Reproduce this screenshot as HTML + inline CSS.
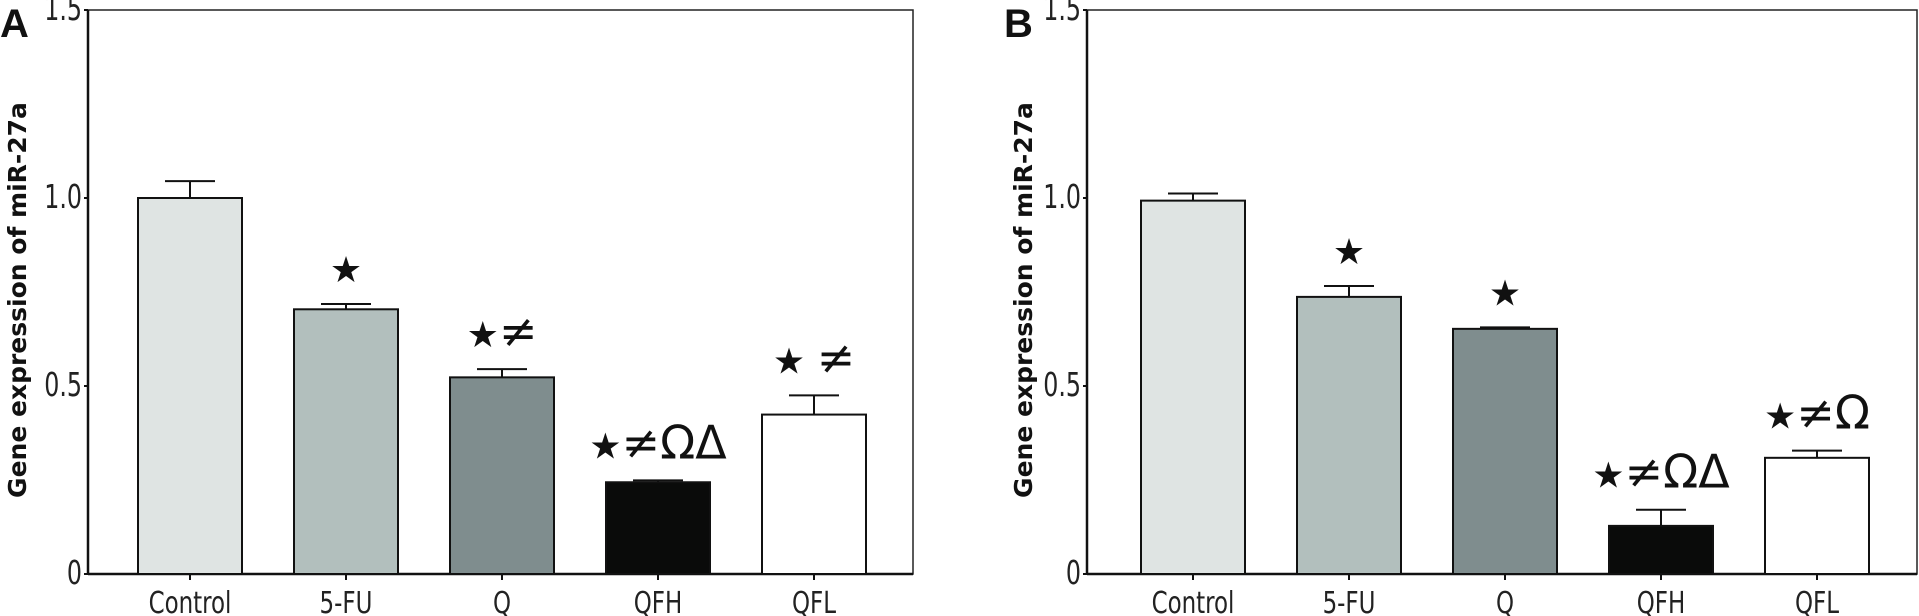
<!DOCTYPE html>
<html><head><meta charset="utf-8"><style>
html,body{margin:0;padding:0;background:#fff;}
svg{display:block;}
text{font-family:"DejaVu Sans Condensed","Liberation Sans Narrow","Liberation Sans",sans-serif;}
</style></head><body>
<svg id="chart" width="1919" height="616" viewBox="0 0 1919 616"></svg>
<script>
const categories = ["Control","5-FU","Q","QFH","QFL"];
const fills = ["#dfe4e3","#b2bfbd","#7f8d8e","#0a0b0a","#ffffff"];
const valuesA = [1.0,0.704,0.523,0.244,0.424];
const errorsA = [0.045,0.014,0.022,0.005,0.051];
const starsA = ["","★","★","★","★ "];
const symsA = ["","","≠","≠ΩΔ","≠"];
const valuesB = [0.993,0.737,0.652,0.128,0.309];
const errorsB = [0.019,0.029,0.004,0.043,0.019];
const starsB = ["","★","★","★","★"];
const symsB = ["","","","≠ΩΔ","≠Ω"];
const yTicks = [0,0.5,1.0,1.5];
const yTickLabels = ["0","0.5","1.0","1.5"];

const NS="http://www.w3.org/2000/svg";
const svg=document.getElementById('chart');
function mk(tag,attrs,parent){const e=document.createElementNS(NS,tag);for(const k in attrs)e.setAttribute(k,attrs[k]);(parent||svg).appendChild(e);return e;}

function panel(letter, x0, x1, firstCenter, values, errors, stars, syms, letterX, titleX, pname){
  const g=mk('g',{});
  
  
  const yTop=10, yZero=574, yMax=1.5;
  const y=v=>yZero-(v/yMax)*(yZero-yTop);
  const step=156, bw=104;
  const xc=i=>firstCenter+i*step;
  const fr=mk('rect',{x:x0,y:yTop,width:x1-x0,height:yZero-yTop,fill:'none',stroke:'#222','stroke-width':1.5},g);
  
  
  const ax=mk('line',{x1:x0,y1:yTop,x2:x0,y2:yZero,stroke:'#111','stroke-width':2.5},g);
  
  
  const bx=mk('line',{x1:x0,y1:yZero,x2:x1,y2:yZero,stroke:'#111','stroke-width':2.5},g);
  
  
  yTicks.forEach((t,i)=>{
    mk('line',{x1:x0-4,y1:y(t),x2:x0,y2:y(t),stroke:'#111','stroke-width':2},g);
    const tx=x0-6;
    const tl=mk('text',{x:tx,y:y(t)+10,'text-anchor':'end',fill:'#222',style:'font-size:33px',transform:`translate(${tx},0) scale(0.8,1) translate(${-tx},0)`},g);
    tl.textContent=yTickLabels[i];
    
    
  });
  categories.forEach((c,i)=>{
    const cx=xc(i);
    const top=y(values[i]);
    const eb=y(values[i]+errors[i]);
    mk('line',{x1:cx,y1:eb,x2:cx,y2:top,stroke:'#111','stroke-width':2},g);
    mk('line',{x1:cx-25,y1:eb,x2:cx+25,y2:eb,stroke:'#111','stroke-width':2},g);
    const r=mk('rect',{x:cx-bw/2,y:top,width:bw,height:yZero-top,fill:fills[i],stroke:'#111','stroke-width':2},g);
    
    
    mk('line',{x1:cx,y1:yZero,x2:cx,y2:yZero+6,stroke:'#111','stroke-width':2},g);
    const xl=mk('text',{x:cx,y:613,'text-anchor':'middle',fill:'#222',style:'font-size:30px',transform:`translate(${cx},0) scale(0.85,1) translate(${-cx},0)`},g);
    xl.textContent=c;
    
    
    if(stars[i]){
      const a=mk('text',{x:cx,y:Math.min(top,eb)-22,'text-anchor':'middle',fill:'#111',style:'font-family:"DejaVu Sans",sans-serif'},g);
      
      
      const s1=mk('tspan',{style:'font-size:36px'},a); s1.textContent=stars[i];
      const s2=mk('tspan',{style:'font-size:46px'},a); s2.textContent=syms[i];
    }
  });
  const L=mk('text',{x:letterX,y:37,fill:'#111',style:'font-size:40px;font-weight:bold;font-family:"Liberation Sans",sans-serif'},g);
  L.textContent=letter;
  
  
  const T=mk('text',{x:titleX,y:300,'text-anchor':'middle',fill:'#111',style:'font-size:25px;font-weight:bold;font-family:"DejaVu Sans",sans-serif',transform:`rotate(-90 ${titleX} 300)`},g);
  T.textContent='Gene expression of miR-27a';
  
  
}
panel('A',88,913,190,valuesA,errorsA,starsA,symsA,0,26,'panel-a');
panel('B',1087,1917,1193,valuesB,errorsB,starsB,symsB,1004,1032,'panel-b');
</script>
</body></html>
